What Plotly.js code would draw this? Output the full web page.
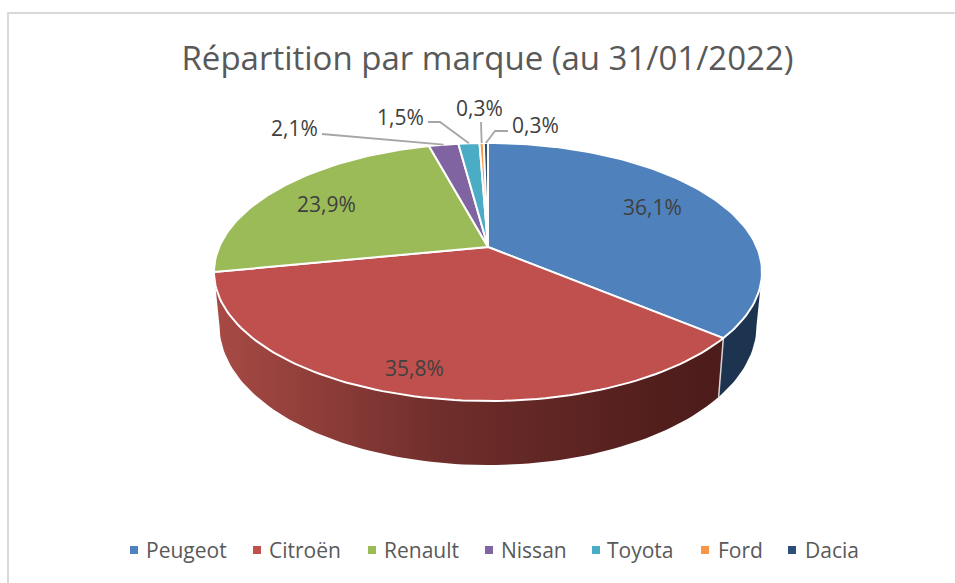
<!DOCTYPE html>
<html><head><meta charset="utf-8">
<script src="https://cdn.plot.ly/plotly-3.0.1.min.js"></script>
<style>html,body{margin:0;padding:0;background:#fff}</style></head>
<body><div id="chart" style="width:955px;height:583px"></div>
<script>
const brands = ["Peugeot","Citroën","Renault","Nissan","Toyota","Ford","Dacia"];
const shares = [36.1,35.8,23.9,2.1,1.5,0.3,0.3];
const labels = ["36,1%","35,8%","23,9%","2,1%","1,5%","0,3%","0,3%"];
const topColors = ["#4f81bd","#c0504d","#9bbb59","#8064a2","#4bacc6","#f79646","#2c4d75"];
const titleText = "Répartition par marque (au 31/01/2022)";

// pixel-based drawing frame and perspective of the 3D pie
const W=955,H=583,CX=488,CY=247,A=268.8,B=124.2,K=0.194,D=51.5,BX=0.98;
const labelPos = [[652,207],[414,368],[326,204],[294,128],[400,117],[479,108],[535,125]];
const leaderStart = [null,null,null,[[322,134]],[[428,122],[440,122]],[[481,122]],[[508,131],[495,131]]];
const legendY = 550;
const legendMarkerX = [134,257,372,489,596,705,792];
const legendTextX = [144,267,382,499,605,716,803];

const rad = p => p/100*2*Math.PI;
function rim(p){const t=rad(p),u=Math.sin(t),v=Math.cos(t),w=1+K*v;return [CX+A*u/w,CY-B*v/w];}
function low(p){const t=rad(p),u=Math.sin(t),v=Math.cos(t),w=1+K*v;return [CX+BX*A*u/w,CY-B*v/w+D/w];}
function range(a,b){const n=Math.max(2,Math.ceil((b-a)/0.4)),o=[];for(let i=0;i<=n;i++)o.push(a+(b-a)*i/n);return o;}

const cum=[];shares.reduce((s,v,i)=>{cum[i]=[s,s+v];return s+v;},0);
const silhouetteR=Math.acos(-K)/(2*Math.PI)*100;      // right extreme of the disc
const silhouetteL=100-silhouetteR;                    // left extreme of the disc

function wall(a,b,fill){
  const P=range(a,b),up=P.map(rim),dn=P.map(low).reverse(),pts=up.concat(dn);pts.push(up[0]);
  return Object.assign({x:pts.map(q=>q[0]),y:pts.map(q=>q[1]),type:"scatter",mode:"lines",fill:"toself",
    line:{width:0,color:"rgba(0,0,0,0)"},showlegend:false,hoverinfo:"skip"},fill);
}
const traces=[];
traces.push(wall(silhouetteR,cum[0][1],{fillcolor:"#1c3450"}));
traces.push(wall(cum[1][0],silhouetteL,{fillgradient:{type:"horizontal",
  colorscale:[[0,"#a84a45"],[0.45,"#6f2e2b"],[0.88,"#511e1c"],[1,"#4c1c1a"]]}}));
// separator between the two visible walls
{const a=rim(cum[1][0]),b=low(cum[1][0]);
 traces.push({x:[a[0],b[0]],y:[a[1],b[1]],type:"scatter",mode:"lines",line:{color:"#d8d4d4",width:1.5},showlegend:false,hoverinfo:"skip"});}
// top faces
brands.forEach((n,i)=>{
  const pts=[[CX,CY]].concat(range(cum[i][0],cum[i][1]).map(rim));pts.push([CX,CY]);
  traces.push({x:pts.map(q=>q[0]),y:pts.map(q=>q[1]),type:"scatter",mode:"lines",fill:"toself",fillcolor:topColors[i],
    line:{color:"#ffffff",width:2},showlegend:false,name:n,hoverinfo:"name"});
});
// leader lines
leaderStart.forEach((s,i)=>{
  if(!s)return;
  const pts=s.concat([rim((cum[i][0]+cum[i][1])/2)]);
  traces.push({x:pts.map(q=>q[0]),y:pts.map(q=>q[1]),type:"scatter",mode:"lines",line:{color:"#a6a6a6",width:1.8},showlegend:false,hoverinfo:"skip"});
});
// legend keys
brands.forEach((n,i)=>traces.push({x:[legendMarkerX[i]],y:[legendY],type:"scatter",mode:"markers",name:n,
  marker:{symbol:"square",size:8,color:topColors[i]},showlegend:false,hoverinfo:"name"}));

const FONT='"Open Sans", sans-serif';
const dataLabels=labels.map((t,i)=>({x:labelPos[i][0],y:labelPos[i][1],xref:"x",yref:"y",text:t,showarrow:false,
    xanchor:"center",yanchor:"middle",font:{family:FONT,size:21,color:"#404040"}}));
const legendLabels=brands.map((t,i)=>({x:legendTextX[i],y:legendY,xref:"x",yref:"y",text:t,showarrow:false,
    xanchor:"left",yanchor:"middle",font:{family:FONT,size:21,color:"#595959"}}));
const layout={width:W,height:H,margin:{l:0,r:0,t:0,b:0},paper_bgcolor:"#fff",plot_bgcolor:"#fff",
  title:{text:titleText,font:{family:FONT,size:33,color:"#595959"},x:487.5/W,xanchor:"center",y:1-58/H,yanchor:"middle"},
  xaxis:{range:[0,W],visible:false,fixedrange:true},
  yaxis:{range:[H,0],visible:false,fixedrange:true},
  showlegend:false,
  shapes:[{type:"path",path:`M8,${H} L8,13 L${W},13`,line:{color:"#d9d9d9",width:2},xref:"x",yref:"y"}],
  annotations:dataLabels.concat(legendLabels)
};
Plotly.newPlot("chart",traces,layout,{displayModeBar:false,responsive:false});
</script></body></html>
